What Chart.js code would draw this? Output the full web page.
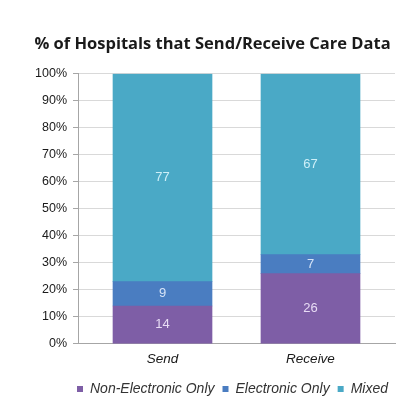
<!DOCTYPE html>
<html>
<head>
<meta charset="utf-8">
<script src="https://cdn.jsdelivr.net/npm/chart.js@4.4.1/dist/chart.umd.min.js"></script>
<style>
  html, body { margin: 0; padding: 0; background: #ffffff; }
  #wrap { width: 408px; height: 410px; }
</style>
</head>
<body>
<div id="wrap"><canvas id="care-chart"></canvas></div>
<script>
const categories   = ["Send", "Receive"];
const nonElectronic = [14, 26];
const electronic    = [9, 7];
const mixed         = [77, 67];
const yTicks        = [0, 10, 20, 30, 40, 50, 60, 70, 80, 90, 100];

const AXIS_GRAY = "#a6a6a6";
const GRID_GRAY = "#d9d9d9";
const BAR_WIDTH = 99;

function points(values) {
  return values.map((v, i) => ({ x: i, y: v }));
}

// draws the value in the middle of every bar segment
const segmentLabels = {
  id: "segmentLabels",
  afterDatasetsDraw(chart) {
    const ctx = chart.ctx;
    ctx.save();
    ctx.font = "13px 'Liberation Sans', Arial, sans-serif";
    ctx.textAlign = "center";
    ctx.textBaseline = "middle";
    chart.data.datasets.forEach((ds, di) => {
      const meta = chart.getDatasetMeta(di);
      ctx.fillStyle = ds.labelColor;
      meta.data.forEach((bar, i) => {
        const { x, y, base } = bar.getProps(["x", "y", "base"], true);
        ctx.fillText(String(ds.data[i].y), x, (y + base) / 2);
      });
    });
    ctx.restore();
  },
};

// keeps the legend centred under the plot area rather than the canvas
const legendUnderPlot = {
  id: "legendUnderPlot",
  afterLayout(chart) {
    const lg = chart.legend;
    if (!lg) return;
    const dx = (chart.chartArea.left + chart.chartArea.right) / 2 - (lg.left + lg.right) / 2 - 4;
    lg.left += dx;
    lg.right += dx;
  },
};

new Chart(document.getElementById("care-chart"), {
  type: "bar",
  data: {
    datasets: [
      {
        label: "Non-Electronic Only",
        data: points(nonElectronic),
        backgroundColor: "#7e5ea6",
        barThickness: BAR_WIDTH,
        labelColor: "#e8dcf5",
      },
      {
        label: "Electronic Only",
        data: points(electronic),
        backgroundColor: "#4a7dc1",
        barThickness: BAR_WIDTH,
        labelColor: "#d6e4f7",
      },
      {
        label: "Mixed",
        data: points(mixed),
        backgroundColor: "#4aa9c6",
        barThickness: BAR_WIDTH,
        labelColor: "#cdeff8",
      },
    ],
  },
  options: {
    responsive: true,
    maintainAspectRatio: false,
    animation: false,
    devicePixelRatio: 1,
    layout: { padding: { left: 30, right: 13, top: 0, bottom: 4 } },
    plugins: {
      title: {
        display: true,
        text: "% of Hospitals that Send/Receive Care Data",
        color: "#1a1a1a",
        font: { family: "'Open Sans', sans-serif", size: 16.5, weight: "bold" },
        padding: { top: 34, bottom: 20 },
      },
      legend: {
        position: "bottom",
        labels: {
          boxWidth: 6,
          boxHeight: 6,
          padding: 8,
          color: "#333333",
          font: { family: "'Liberation Sans', Arial, sans-serif", size: 14, style: "italic" },
        },
      },
      tooltip: { enabled: false },
    },
    scales: {
      x: {
        type: "linear",
        stacked: true,
        offset: false,
        min: -0.571,
        max: 1.571,
        afterBuildTicks: (scale) => {
          scale.ticks = categories.map((c, i) => ({ value: i }));
        },
        grid: { display: false, drawTicks: false, tickLength: 0 },
        border: { display: true, color: AXIS_GRAY },
        ticks: {
          padding: 7,
          color: "#1a1a1a",
          font: { family: "'Liberation Sans', Arial, sans-serif", size: 13.5, style: "italic" },
          callback: (v) => categories[v],
        },
      },
      y: {
        stacked: true,
        min: 0,
        max: 100,
        afterBuildTicks: (scale) => {
          scale.ticks = yTicks.map((v) => ({ value: v }));
        },
        afterFit: (scale) => { scale.width = 48; },
        grid: { color: GRID_GRAY, tickColor: AXIS_GRAY, tickLength: 5 },
        border: { display: true, color: AXIS_GRAY },
        ticks: {
          padding: 6,
          color: "#1a1a1a",
          font: { family: "'Liberation Sans', Arial, sans-serif", size: 12.5 },
          callback: (v) => `${v}%`,
        },
      },
    },
  },
  plugins: [segmentLabels, legendUnderPlot],
});
</script>
</body>
</html>
